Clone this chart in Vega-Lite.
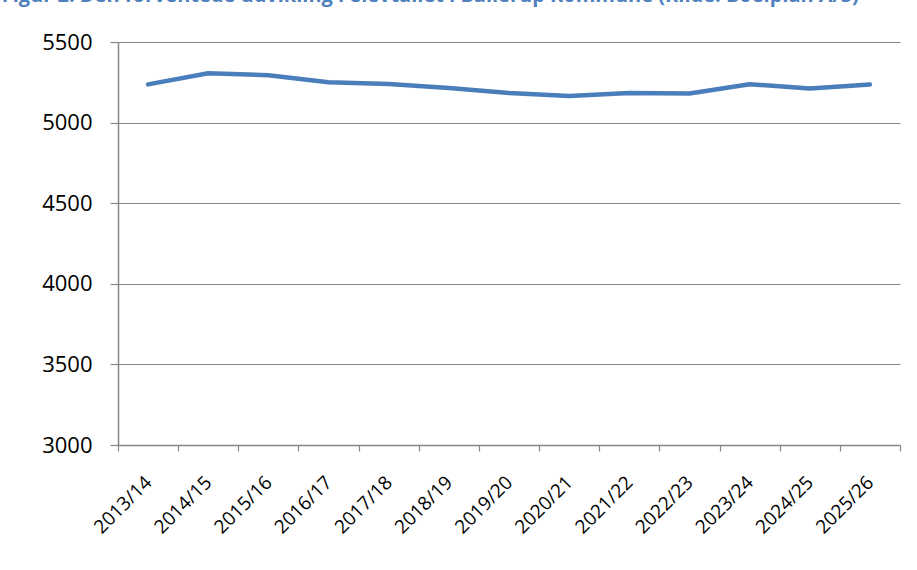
{
  "$schema": "https://vega.github.io/schema/vega-lite/v6.json",
  "autosize": {"type": "none"},
  "width": 782,
  "height": 403,
  "padding": {"left": 118, "top": 42, "right": 17, "bottom": 125},
  "background": "white",
  "title": {
    "text": "Figur 2: Den forventede udvikling i elevtallet i Ballerup Kommune (Kilde: Boelplan A/S)",
    "anchor": "start",
    "frame": "bounds",
    "dx": -40,
    "offset": 5,
    "baseline": "bottom",
    "font": "Open Sans",
    "fontSize": 20,
    "fontWeight": "bold",
    "color": "#4F81BD"
  },
  "data": {
    "values": [
      {"year": "2013/14", "elever": 5237},
      {"year": "2014/15", "elever": 5306},
      {"year": "2015/16", "elever": 5294},
      {"year": "2016/17", "elever": 5250},
      {"year": "2017/18", "elever": 5240},
      {"year": "2018/19", "elever": 5215},
      {"year": "2019/20", "elever": 5184},
      {"year": "2020/21", "elever": 5165},
      {"year": "2021/22", "elever": 5184},
      {"year": "2022/23", "elever": 5180},
      {"year": "2023/24", "elever": 5238},
      {"year": "2024/25", "elever": 5212},
      {"year": "2025/26", "elever": 5237}
    ]
  },
  "mark": {"type": "line", "color": "#4A7EBB", "strokeWidth": 4.5, "strokeCap": "round", "strokeJoin": "round"},
  "encoding": {
    "x": {
      "field": "year",
      "type": "ordinal",
      "sort": null,
      "scale": {"paddingInner": 0, "paddingOuter": 0},
      "axis": {
        "title": null,
        "labelAngle": -45,
        "labelAlign": "right",
        "labelBaseline": "middle",
        "labelFont": "Open Sans",
        "labelFontSize": 19,
        "labelColor": "black",
        "labelPadding": 28,
        "tickBand": "extent",
        "tickSize": 6,
        "tickColor": "#868686",
        "tickWidth": 1.2,
        "domainColor": "#868686",
        "domainWidth": 1.5,
        "grid": false
      }
    },
    "y": {
      "field": "elever",
      "type": "quantitative",
      "scale": {"domain": [3000, 5500], "nice": false, "zero": false},
      "axis": {
        "title": null,
        "values": [3000, 3500, 4000, 4500, 5000, 5500],
        "format": "d",
        "labelFont": "Open Sans",
        "labelFontSize": 22,
        "labelColor": "black",
        "labelPadding": 18,
        "tickSize": 8,
        "tickColor": "#868686",
        "tickWidth": 1.2,
        "domainColor": "#868686",
        "domainWidth": 1.5,
        "gridColor": "#868686",
        "gridWidth": 1.2
      }
    }
  },
  "config": {"view": {"stroke": null}}
}
